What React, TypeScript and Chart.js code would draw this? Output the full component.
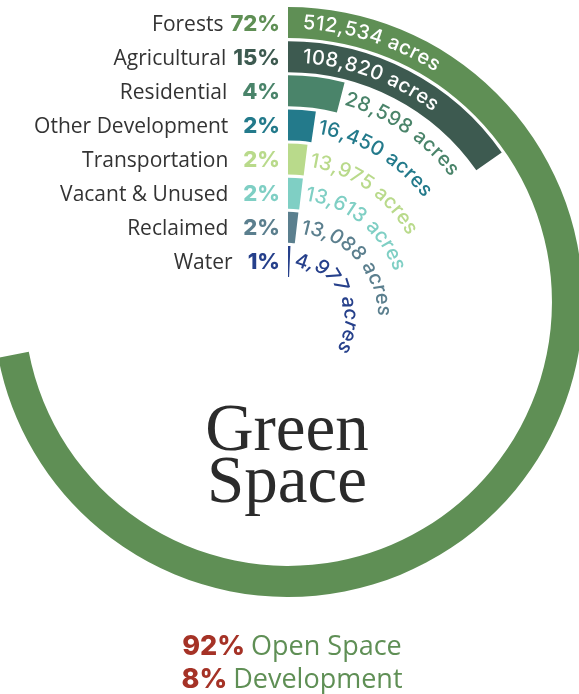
import React, { useEffect, useRef } from "react";
import { Chart, registerables } from "chart.js";

Chart.register(...registerables);

const categories = [
  "Forests",
  "Agricultural",
  "Residential",
  "Other Development",
  "Transportation",
  "Vacant & Unused",
  "Reclaimed",
  "Water",
];
const acres = [512534, 108820, 28598, 16450, 13975, 13613, 13088, 4977];
const percentLabels = ["72%", "15%", "4%", "2%", "2%", "2%", "2%", "1%"];
const colors = [
  "#5f8f55",
  "#3d5a50",
  "#4a846a",
  "#237a8b",
  "#b9da8b",
  "#7fcfc4",
  "#5b7f8e",
  "#26408b",
];
const centerLines = ["Green", "Space"];
const summaryValues = ["92%", "8%"];
const summaryLabels = ["Open Space", "Development"];

const total = acres.reduce((a, b) => a + b, 0);
const fmt = (n: number) => n.toLocaleString("en-US") + " acres";

function drawArcText(
  ctx: CanvasRenderingContext2D,
  text: string,
  cx: number,
  cy: number,
  r0: number,
  startAngle: number,
  growth: number,
  tracking: number
) {
  let theta = startAngle;
  let s = 0;
  for (const ch of text) {
    const w = ctx.measureText(ch).width;
    const r1 = r0 + growth * s;
    theta += w / 2 / r1;
    const r = r0 + growth * (s + w / 2);
    const x = cx + r * Math.cos(theta);
    const y = cy + r * Math.sin(theta);
    ctx.save();
    ctx.translate(x, y);
    ctx.rotate(theta + Math.PI / 2);
    ctx.fillText(ch, 0, 0);
    ctx.restore();
    s += w + tracking;
    const r2 = r0 + growth * s;
    theta += (w / 2 + tracking) / r2;
  }
}

function textWidth(ctx: CanvasRenderingContext2D, text: string, tracking: number) {
  let w = 0;
  for (const ch of text) w += ctx.measureText(ch).width + tracking;
  return w - tracking;
}

const NAME_FONT = '400 21px "Open Sans"';
const PCT_FONT = '800 22px Inter';
const ARC_FONT = '500 20px Inter';

const labelPlugin = {
  id: "labelPlugin",
  afterDraw(chart: any) {
    const ctx: CanvasRenderingContext2D = chart.ctx;
    ctx.save();
    categories.forEach((name, i) => {
      const meta = chart.getDatasetMeta(i * 2);
      const arc = meta.data[0] as any;
      if (!arc) return;
      const { x: cx, y: cy, startAngle, endAngle, innerRadius, outerRadius } = arc;
      const rm = (innerRadius + outerRadius) / 2;

      // left labels
      const ly = cy - rm + 8;
      ctx.textAlign = "right";
      ctx.textBaseline = "alphabetic";
      ctx.font = PCT_FONT;
      ctx.fillStyle = colors[i];
      const pctX = cx - 8;
      ctx.fillText(percentLabels[i], pctX, ly);
      const pw = ctx.measureText(percentLabels[i]).width;
      const gap = percentLabels[i].length < 3 ? 15 : 7;
      ctx.font = NAME_FONT;
      ctx.fillStyle = "#333333";
      ctx.fillText(name, pctX - pw - gap, ly);

      // curved acres text
      const tracking = 0.7;
      ctx.font = ARC_FONT;
      ctx.textAlign = "center";
      ctx.textBaseline = "middle";
      const txt = fmt(acres[i]);
      const tw = textWidth(ctx, txt, tracking);
      const barLen = (endAngle - startAngle) * rm;
      if (barLen > tw + 40) {
        ctx.fillStyle = "#ffffff";
        drawArcText(ctx, txt, cx, cy, rm, startAngle + 15 / rm, 0, tracking);
      } else {
        ctx.fillStyle = colors[i];
        const growth = Math.max(0, (128 - rm) / 310);
        drawArcText(ctx, txt, cx, cy, rm, endAngle + 5 / rm, growth, tracking);
      }
    });

    const first = chart.getDatasetMeta(0).data[0] as any;
    const cx = first.x;
    const cy = first.y;

    // center title
    ctx.textAlign = "center";
    ctx.textBaseline = "alphabetic";
    ctx.fillStyle = "#2b2b2b";
    ctx.font = '400 67px "Liberation Serif"';
    ctx.fillText(centerLines[0], cx - 1, cy + 148);
    ctx.fillText(centerLines[1], cx - 1, cy + 200);

    // summary lines
    const baseYs = [cy + 353, cy + 386];
    const vFont = '800 27px Inter';
    const lFont = '400 27px "Open Sans"';
    summaryValues.forEach((v, k) => {
      ctx.font = vFont;
      const vw = ctx.measureText(v).width + 6;
      ctx.font = lFont;
      const lw = ctx.measureText(summaryLabels[k]).width;
      const left = cx + 4 - (vw + lw) / 2;
      ctx.textAlign = "left";
      ctx.font = vFont;
      ctx.fillStyle = "#a53226";
      ctx.fillText(v, left, baseYs[k]);
      ctx.font = lFont;
      ctx.fillStyle = "#5f8f55";
      ctx.fillText(summaryLabels[k], left + vw, baseYs[k]);
    });
    ctx.restore();
  },
};

export default function App() {
  const ref = useRef<HTMLCanvasElement | null>(null);
  useEffect(() => {
    if (!ref.current) return;
    const datasets: any[] = [];
    categories.forEach((c, i) => {
      datasets.push({
        label: c,
        data: [acres[i], total - acres[i]],
        backgroundColor: [colors[i], "rgba(0,0,0,0)"],
        borderWidth: 0,
        weight: 1,
      });
      if (i < categories.length - 1) {
        datasets.push({
          label: "",
          data: [1],
          backgroundColor: ["rgba(0,0,0,0)"],
          borderWidth: 0,
          weight: 0.1,
        });
      }
    });
    const chart = new Chart(ref.current, {
      type: "doughnut",
      data: { labels: ["value", "rest"], datasets },
      options: {
        responsive: false,
        animation: false,
        events: [],
        cutout: 25,
        layout: { padding: { top: 7, bottom: 97, left: 0, right: 0 } },
        plugins: { legend: { display: false }, tooltip: { enabled: false } },
      },
      plugins: [labelPlugin],
    });
    (document as any).fonts?.ready?.then(() => chart.draw());
    return () => chart.destroy();
  }, []);
  return (
    <div
      style={{
        position: "absolute",
        left: 0,
        top: 0,
        width: 579,
        height: 694,
        overflow: "hidden",
        background: "#ffffff",
      }}
    >
      <canvas
        ref={ref}
        width={590}
        height={694}
        style={{ position: "absolute", left: -7, top: 0 }}
      />
    </div>
  );
}
